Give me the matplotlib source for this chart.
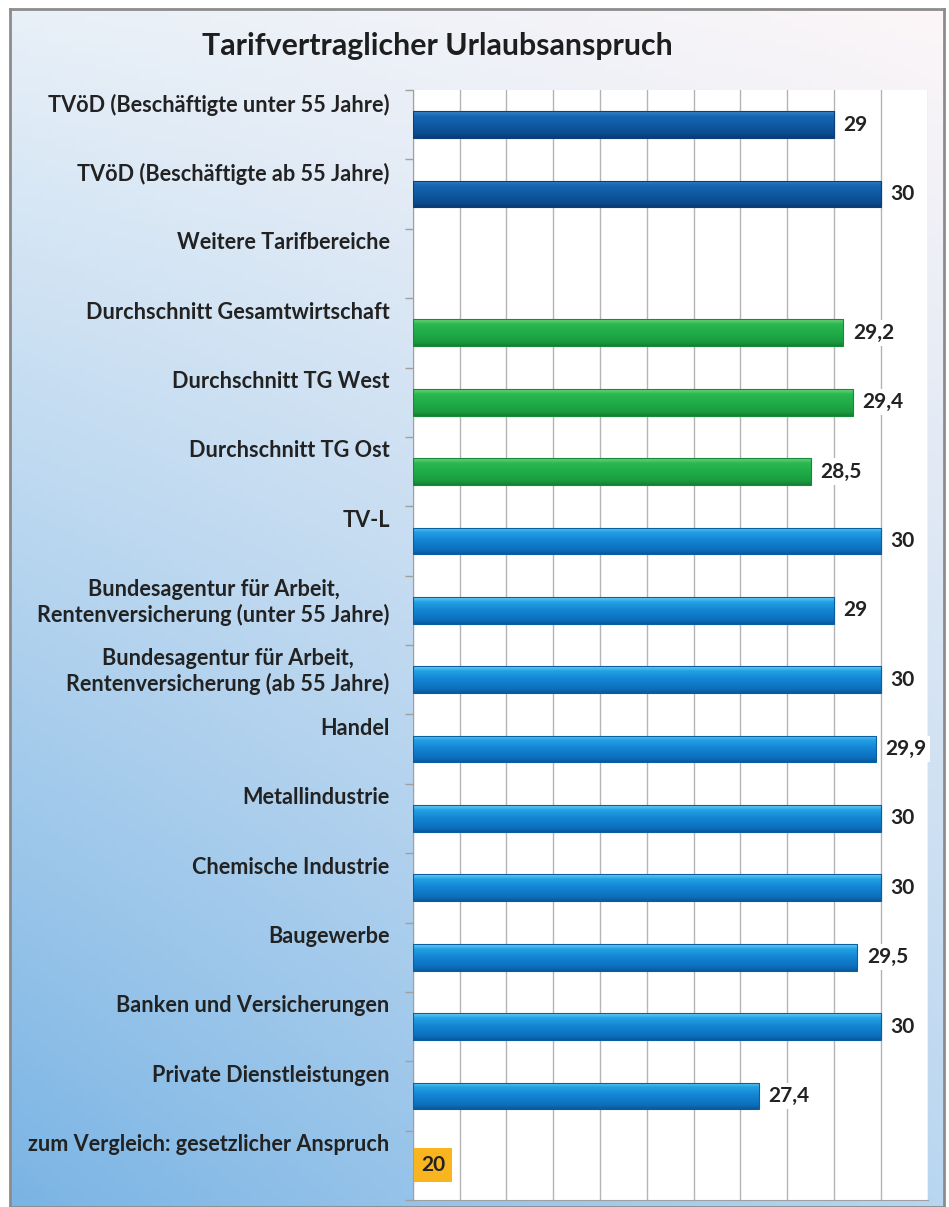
import numpy as np
import matplotlib
matplotlib.use("Agg")
import matplotlib.pyplot as plt
from matplotlib.colors import to_rgb
import matplotlib.transforms as mtransforms

plt.rcParams['font.family'] = ['Lato', 'DejaVu Sans']

title = "Tarifvertraglicher Urlaubsanspruch"
categories = [
    "TVöD (Beschäftigte unter 55 Jahre)",
    "TVöD (Beschäftigte ab 55 Jahre)",
    "Weitere Tarifbereiche",
    "Durchschnitt Gesamtwirtschaft",
    "Durchschnitt TG West",
    "Durchschnitt TG Ost",
    "TV-L",
    "Bundesagentur für Arbeit,\nRentenversicherung (unter 55 Jahre)",
    "Bundesagentur für Arbeit,\nRentenversicherung (ab 55 Jahre)",
    "Handel",
    "Metallindustrie",
    "Chemische Industrie",
    "Baugewerbe",
    "Banken und Versicherungen",
    "Private Dienstleistungen",
    "zum Vergleich: gesetzlicher Anspruch",
]
values = [29, 30, np.nan, 29.2, 29.4, 28.5, 30, 29, 30, 29.9, 30, 30, 29.5, 30, 27.4, 20]
groups = ["tvoed", "tvoed", "none", "avg", "avg", "avg", "other", "other", "other",
          "other", "other", "other", "other", "other", "other", "legal"]

palettes = {
    "tvoed": ["#3a86cc", "#1766b2", "#0f5aa3", "#0b4b8e", "#083c75"],
    "avg":   ["#6fd47a", "#2bb752", "#20ad48", "#1b9b3f", "#157f33"],
    "other": ["#6ad0f6", "#22a0e4", "#1384d3", "#0c6fbd", "#0a5a9c"],
    "legal": ["#f9b520"] * 5,
}
edge_cols = {"tvoed": "#0a3f78", "avg": "#168a38", "other": "#0b5f9f", "legal": "#f9b520"}

W, H = 949, 1207
fig = plt.figure(figsize=(W / 100, H / 100), dpi=100)
fig.patch.set_facecolor("white")

# background gradient panel
bg = fig.add_axes([10 / W, 0, (944 - 10) / W, (H - 9) / H], zorder=-5)
nx, ny = 200, 200
xx, yy = np.meshgrid(np.linspace(0, 1, nx), np.linspace(1, 0, ny))
tl = np.array([232, 240, 248]) / 255
tr = np.array([252, 246, 248]) / 255
bl = np.array([122, 180, 228]) / 255
br = np.array([185, 214, 240]) / 255
img = (tl[None, None] * ((1 - xx) * yy)[..., None] + tr[None, None] * (xx * yy)[..., None]
       + bl[None, None] * ((1 - xx) * (1 - yy))[..., None] + br[None, None] * (xx * (1 - yy))[..., None])
bg.imshow(img, aspect="auto", extent=(0, 1, 0, 1), origin="upper")
bg.set_xlim(0, 1); bg.set_ylim(0, 1)
bg.set_xticks([]); bg.set_yticks([])
for s in bg.spines.values():
    s.set_color("#8c8c8c"); s.set_linewidth(2)

# main axes
left, right = 412.7, 927.5
top, bottom = 90, 1200
ax = fig.add_axes([left / W, 1 - bottom / H, (right - left) / W, (bottom - top) / H])
ax.set_facecolor("white")

n = len(categories)
ypos = np.arange(n)
plot_vals = [0 if (np.isnan(v)) else v - 20 for v in values]
bars = ax.barh(ypos, plot_vals, left=20, height=0.385, color="none", zorder=3)

for rect, g, v in zip(bars, groups, values):
    if g in ("none", "legal"):
        continue
    x0, y0, w, h = rect.get_x(), rect.get_y(), rect.get_width(), rect.get_height()
    cols = [to_rgb(c) for c in palettes[g]]
    stops = [0.0, 0.18, 0.5, 0.85, 1.0]
    t = np.linspace(0, 1, 64)
    arr = np.zeros((64, 1, 3))
    for k in range(3):
        arr[:, 0, k] = np.interp(t, stops, [c[k] for c in cols])
    im = ax.imshow(arr, extent=(x0, x0 + w, y0 + h, y0), origin="upper", aspect="auto", zorder=3)
    im.set_clip_path(rect)
    rect.set_edgecolor(edge_cols[g])
    rect.set_linewidth(0.8)
    rect.set_zorder(4)

ax.set_xlim(20, 31)
ax.set_ylim(n - 0.5, -0.5)

# grid
ax.set_xticks(np.arange(20, 32, 1))
ax.tick_params(axis="x", length=0, labelbottom=False)
ax.grid(axis="x", color="#b4b4b4", linewidth=1.0, zorder=0)
ax.set_axisbelow(True)
ax.set_yticks(np.arange(-0.5, n, 1))
ax.tick_params(axis="y", length=6, color="#a0a0a0", width=1, labelleft=False)
for s in ["top", "right"]:
    ax.spines[s].set_visible(False)
ax.spines["left"].set_color("#a0a0a0")
ax.spines["bottom"].set_color("#a0a0a0")

# category labels
trans = mtransforms.blended_transform_factory(ax.transAxes, ax.transData)
for i, c in enumerate(categories):
    ax.text(-23 / (right - left), i - 0.5 + 0.05, c, transform=trans, ha="right", va="top",
            multialignment="center", fontsize=15.6, fontweight="bold", color="#222222",
            linespacing=1.2)

# value labels
for i, (v, g) in enumerate(zip(values, groups)):
    if np.isnan(v):
        continue
    txt = f"{v:g}".replace(".", ",")
    if g == "legal":
        ax.annotate(txt, (v, i), xytext=(6, 0), textcoords="offset points", ha="left", va="center",
                    fontsize=15, fontweight="bold", color="#222222", zorder=6,
                    bbox=dict(boxstyle="square,pad=0.33", facecolor="#f9b520", edgecolor="none"))
    else:
        ax.annotate(txt, (v, i), xytext=(7, 0), textcoords="offset points", ha="left", va="center",
                    fontsize=15, fontweight="bold", color="#222222", zorder=6,
                    bbox=dict(boxstyle="square,pad=0.15", facecolor="white", edgecolor="none"))

fig.text(437 / W, 1 - 46 / H, title, ha="center", va="center", fontsize=21.8,
         fontweight="bold", color="#1e1e1e")

fig.savefig("out.png", dpi=100)
